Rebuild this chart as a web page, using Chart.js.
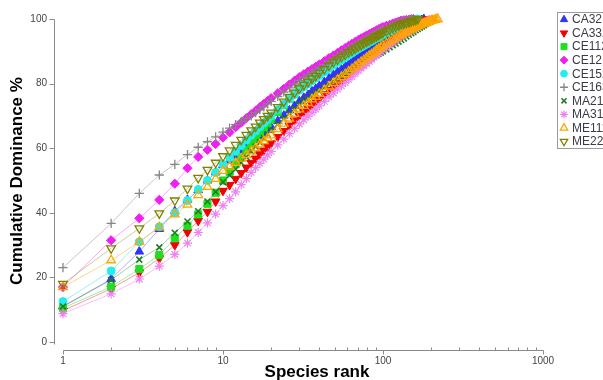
<!DOCTYPE html>
<html>
<head>
<meta charset="utf-8">
<script src="https://cdn.jsdelivr.net/npm/chart.js@4.4.1/dist/chart.umd.min.js"></script>
<style>
html,body{margin:0;padding:0;background:#fff;}
canvas{display:block;}
</style>
</head>
<body>
<canvas id="c" width="603" height="380"></canvas>
<script>
// ---- data ----
const RANKS = [1,2,3,4,5,6,7,8,9,10,11,12,13,14,15,16,17,18,19,20,
  22,24,26,28,30,32,34,36,38,40,
  43,46,49,52,55,58,61,64,67,70,73,76,79,82,85,88,91,94,97,100,
  105,110,115,120,125,130,135,140,145,150,155,160,165,170,175,180,185,190,195,200,205,210,215,220];

const NAMES = ['CA321','CA332','CE112','CE121','CE152','CE163','MA213','MA313','ME111','ME222'];

const CA321 = [11,19.5,28,35,40.5,44,47,50,52.5,54.8,56.2,57.5,58.9,60.3,61.5,62.6,63.7,64.7,65.6,66.5,
  68.4,70.1,71.7,73.1,74.5,75.6,76.5,77.6,78.4,79.3,
  80.5,81.6,82.7,83.6,84.4,85.2,86.0,86.7,87.4,88,88.6,89.2,89.7,90.3,90.7,91.2,91.7,92.2,92.6,93,
  93.6,94.2,94.8,95.3,95.8,96.3,96.7,97.2,97.6,98.0,98.4,98.8,99.1,99.4,99.7,100];
const CA332 = [9.7,16.5,21.5,25.9,30,34,37.5,40.3,43.5,46.8,48.6,50.5,52.3,54.0,55.5,56.8,58.1,59.3,60.4,61.5,
  63.5,65.3,67.0,68.6,70,71.2,72.3,73.4,74.4,75.3,
  76.7,78.0,79.1,80.2,81.0,81.9,82.7,83.5,84.3,85,85.7,86.4,87.0,87.7,88.2,88.8,89.4,90.0,90.5,91,
  91.7,92.4,93.1,93.6,94.2,94.8,95.3,95.8,96.3,96.8,97.2,97.7,98.1,98.5,98.9,99.2,99.6,100];
const CE112 = [10.5,17.1,22.6,26.9,32.1,36,39.5,42.8,46.2,50,52.6,55,57.3,59.5,61.5,63.2,64.7,66.2,67.7,69,
  71.2,73.3,75.3,76.9,78.5,79.5,80.4,81.4,82.2,83.0,
  84.1,85.2,86.2,87.0,87.8,88.5,89.2,89.8,90.4,91,91.5,92.0,92.4,92.9,93.3,93.7,94.1,94.5,94.9,95.2,
  95.8,96.3,96.9,97.3,97.8,98.3,98.6,98.9,99.1,99.5,99.7,100];
const CE121 = [17,31.5,38.3,44,49,53.8,57.3,59.5,61.3,63.3,64.9,66.5,67.9,69.3,70.5,71.6,72.7,73.7,74.6,75.5,
  77.0,78.4,79.7,80.9,82,82.9,83.7,84.5,85.2,85.9,
  86.9,87.9,88.7,89.5,90.3,91.0,91.7,92.3,92.9,93.5,94.0,94.4,94.9,95.3,95.7,96.1,96.5,96.8,97.2,97.5,
  97.9,98.2,98.6,98.9,99.2,99.5,99.6,99.7,99.8,99.9,100];
const CE152 = [12.5,22,31,35.7,40,43.8,47.2,50,52.5,55,57.1,59,60.8,62.5,64,65.3,66.6,67.8,68.9,70,
  71.9,73.6,75.2,76.6,78,79.0,79.9,80.9,81.7,82.5,
  83.6,84.7,85.7,86.6,87.3,88.1,88.8,89.5,90.2,90.8,91.3,91.8,92.3,92.8,93.2,93.7,94.1,94.5,94.9,95.3,
  95.8,96.3,96.9,97.3,97.8,98.2,98.5,98.8,99.0,99.3,99.5,99.8,100];
const CE163 = [23,36.7,46,51.7,55,58,60.3,62,63.5,65,66.2,67.3,68.3,69.2,70,71,71.9,72.8,73.7,74.5,
  76,77.4,78.7,79.9,81,81.9,82.7,83.5,84.2,84.9,
  85.9,86.9,87.7,88.5,89.3,90,90.7,91.3,91.9,92.5,93,93.5,94,94.4,94.8,95.3,95.7,96.1,96.5,96.8,
  97.2,97.7,98.1,98.5,98.8,99.2,99.4,99.6,99.8,100];
const MA213 = [11,19.2,25.5,29.3,33.8,37.3,40.5,43.5,46.5,49.5,51.6,53.5,55.5,57.3,59,60.5,61.8,63.1,64.4,65.5,
  67.4,69.1,70.7,72.1,73.5,74.5,75.3,76.2,77.0,77.7,
  78.8,79.8,80.7,81.5,82.3,83.0,83.7,84.3,84.9,85.5,86.0,86.5,87.0,87.5,87.9,88.4,88.8,89.2,89.6,90,
  90.6,91.3,91.9,92.4,93.0,93.5,94.0,94.6,95.1,95.6,96.0,96.5,96.9,97.3,97.7,98.1,98.5,98.8,99.1,99.4,99.7,100];
const MA313 = [8.8,14.9,19.5,23.5,27.1,30.6,33.9,36.9,39.6,42.2,44.4,46.5,48.7,50.6,52.5,54.0,55.3,56.6,57.9,59,
  61.0,62.8,64.5,66.1,67.5,68.8,69.9,71.1,72.1,73.1,
  74.5,75.9,77.1,78.3,79.3,80.4,81.3,82.2,83.2,84,84.8,85.5,86.2,86.9,87.5,88.2,88.8,89.4,90.0,90.5,
  91.2,91.9,92.7,93.3,93.9,94.5,95.0,95.5,96.0,96.4,96.9,97.3,97.7,98.1,98.5,98.8,99.1,99.4,99.7,100];
const ME111 = [17,25.3,31,35.5,39.5,42.5,45.5,48,50.5,53,54.3,55.5,56.8,57.9,59,60.1,61.2,62.2,63.1,64,
  65.9,67.6,69.2,70.6,72,73.1,74.0,75.1,75.9,76.8,
  78.0,79.1,80.2,81.2,82.0,82.9,83.7,84.5,85.3,86,86.7,87.3,88.0,88.6,89.1,89.7,90.3,90.8,91.3,91.8,
  92.4,93.0,93.6,94.1,94.7,95.2,95.6,96.0,96.4,96.8,97.1,97.5,97.8,98.1,98.4,98.6,98.8,99,99.2,99.4,99.6,99.7,99.9,100];
const ME222 = [18,29,35.2,39.8,43.8,47.5,50.8,53.3,55.5,57.5,59.3,61,62.6,64.1,65.5,66.7,67.9,69.0,70.0,71,
  72.7,74.4,75.9,77.2,78.5,79.6,80.5,81.6,82.4,83.3,
  84.5,85.6,86.7,87.5,88.3,89.0,89.7,90.3,90.9,91.5,92.0,92.5,93.0,93.4,93.8,94.3,94.7,95.1,95.5,95.8,
  96.3,96.8,97.3,97.7,98.1,98.5,98.7,98.9,99.1,99.3,99.6,99.8,100];

const SERIES = [CA321, CA332, CE112, CE121, CE152, CE163, MA213, MA313, ME111, ME222];
const Y_TICKS = [0,20,40,60,80,100];
const X_TICKS = [1,2,3,4,5,6,7,8,9,10,20,30,40,50,60,70,80,90,100,200,300,400,500,600,700,800,900,1000];
const X_LABELS = [1,10,100,1000];

// ---- styles ----
const COLORS = ['#3434f2','#f00000','#1ee01e','#f01ef0','#22eeee','#858585','#1f7f1f','#ee82ee','#ffa500','#808000'];
const LINE_COLORS = ['rgba(52,52,242,0.4)','rgba(240,0,0,0.4)','rgba(30,200,30,0.4)','rgba(240,30,240,0.4)','rgba(30,220,220,0.45)','rgba(130,130,130,0.45)','rgba(31,127,31,0.4)','rgba(238,130,238,0.5)','rgba(255,165,0,0.45)','rgba(128,128,0,0.4)'];
const FILLS = ['#3434f2','#f00000','#1ee01e','#f01ef0','#22eeee','#858585','#1f7f1f','#ee82ee','rgba(0,0,0,0)','rgba(0,0,0,0)'];
const STYLES = ['triangle','triangle','rect','rectRot','circle','cross','crossRot','star','triangle','triangle'];
const ROTS = [0,180,0,0,0,0,0,0,0,180];
const RADII = [5,5,5,4.6,4,4.6,4.2,4.6,5,5];
const BWS = [1,1,1,1,1,1.3,1.6,1.2,1.3,1.3];

Chart.defaults.font.family = '"Liberation Sans", Arial, Helvetica, sans-serif';

const datasets = SERIES.map((vals, i) => ({
  label: NAMES[i],
  data: vals.map((v, k) => ({x: RANKS[k], y: v})),
  showLine: true,
  borderColor: LINE_COLORS[i],
  borderWidth: 1,
  pointStyle: STYLES[i],
  pointRotation: ROTS[i],
  pointRadius: RADII[i],
  pointBackgroundColor: FILLS[i],
  pointBorderColor: COLORS[i],
  pointBorderWidth: BWS[i],
  order: SERIES.length - i,
  clip: false
}));

const deco = {
  id: 'deco',
  beforeDatasetsDraw(chart) {
    const {ctx, scales: {x, y}} = chart;
    ctx.save();
    ctx.strokeStyle = '#8a8a8a';
    ctx.lineWidth = 1;
    const yx = 54.5;
    ctx.beginPath();
    ctx.moveTo(yx, Math.round(y.getPixelForValue(100)) + 0.5);
    ctx.lineTo(yx, Math.round(y.getPixelForValue(0)) + 2.5);
    Y_TICKS.forEach(v => {
      const py = Math.round(y.getPixelForValue(v)) + 0.5;
      ctx.moveTo(yx - 5, py); ctx.lineTo(yx, py);
    });
    const xy = 350.5;
    ctx.moveTo(Math.round(x.getPixelForValue(1)) + 0.5, xy);
    ctx.lineTo(Math.round(x.getPixelForValue(1000)) + 0.5, xy);
    X_TICKS.forEach(v => {
      const px = Math.round(x.getPixelForValue(v)) + 0.5;
      if (X_LABELS.includes(v)) { ctx.moveTo(px, xy); ctx.lineTo(px, xy + 4); }
      else { ctx.moveTo(px, xy); ctx.lineTo(px, xy - 3); }
    });
    ctx.stroke();
    ctx.restore();
  },
  afterDraw(chart) {
    const {ctx} = chart;
    ctx.save();
    ctx.fillStyle = '#000';
    ctx.font = 'bold 17px "Liberation Sans", Arial, sans-serif';
    ctx.textAlign = 'center';
    ctx.textBaseline = 'middle';
    ctx.fillText('Species rank', 317, 372);
    ctx.translate(17, 181);
    ctx.rotate(-Math.PI / 2);
    ctx.fillText('Cumulative Dominance %', 0, 0);
    ctx.restore();

    ctx.save();
    ctx.strokeStyle = '#9a9a9a';
    ctx.lineWidth = 1;
    ctx.strokeRect(557.5, 12.5, 80, 136);
    ctx.font = '12px "Liberation Sans", Arial, sans-serif';
    ctx.textAlign = 'left';
    ctx.textBaseline = 'middle';
    NAMES.forEach((n, i) => {
      const ly = 19.5 + i * 13.55;
      ctx.fillStyle = FILLS[i];
      ctx.strokeStyle = COLORS[i];
      ctx.lineWidth = BWS[i];
      Chart.helpers.drawPoint(ctx, {pointStyle: STYLES[i], rotation: ROTS[i], radius: RADII[i] * 0.85, borderWidth: BWS[i]}, 564, ly);
      ctx.fillStyle = '#3a3a4a';
      ctx.fillText(n, 572, ly + 0.5);
    });
    ctx.restore();
  }
};

new Chart(document.getElementById('c'), {
  type: 'scatter',
  data: {datasets},
  options: {
    responsive: false,
    animation: false,
    events: [],
    layout: {padding: {top: 19, right: 60, left: 0, bottom: 0}},
    plugins: {legend: {display: false}, tooltip: {enabled: false}},
    scales: {
      x: {
        type: 'logarithmic',
        min: 0.879, max: 1000,
        grid: {display: false, drawTicks: false},
        border: {display: false},
        afterBuildTicks: s => { s.ticks = X_TICKS.map(v => ({value: v})); },
        afterFit: s => { s.height = 30; },
        ticks: {
          autoSkip: false, maxRotation: 0, minRotation: 0, padding: 5,
          color: '#444', font: {size: 10},
          callback: v => X_LABELS.includes(v) ? String(v) : ''
        }
      },
      y: {
        min: -2.48, max: 100,
        grid: {display: false, drawTicks: false},
        border: {display: false},
        afterBuildTicks: s => { s.ticks = Y_TICKS.map(v => ({value: v})); },
        afterFit: s => { s.width = 54; },
        ticks: {padding: 7, color: '#444', font: {size: 10}, callback: v => String(v)}
      }
    }
  },
  plugins: [deco]
});
</script>
</body>
</html>
